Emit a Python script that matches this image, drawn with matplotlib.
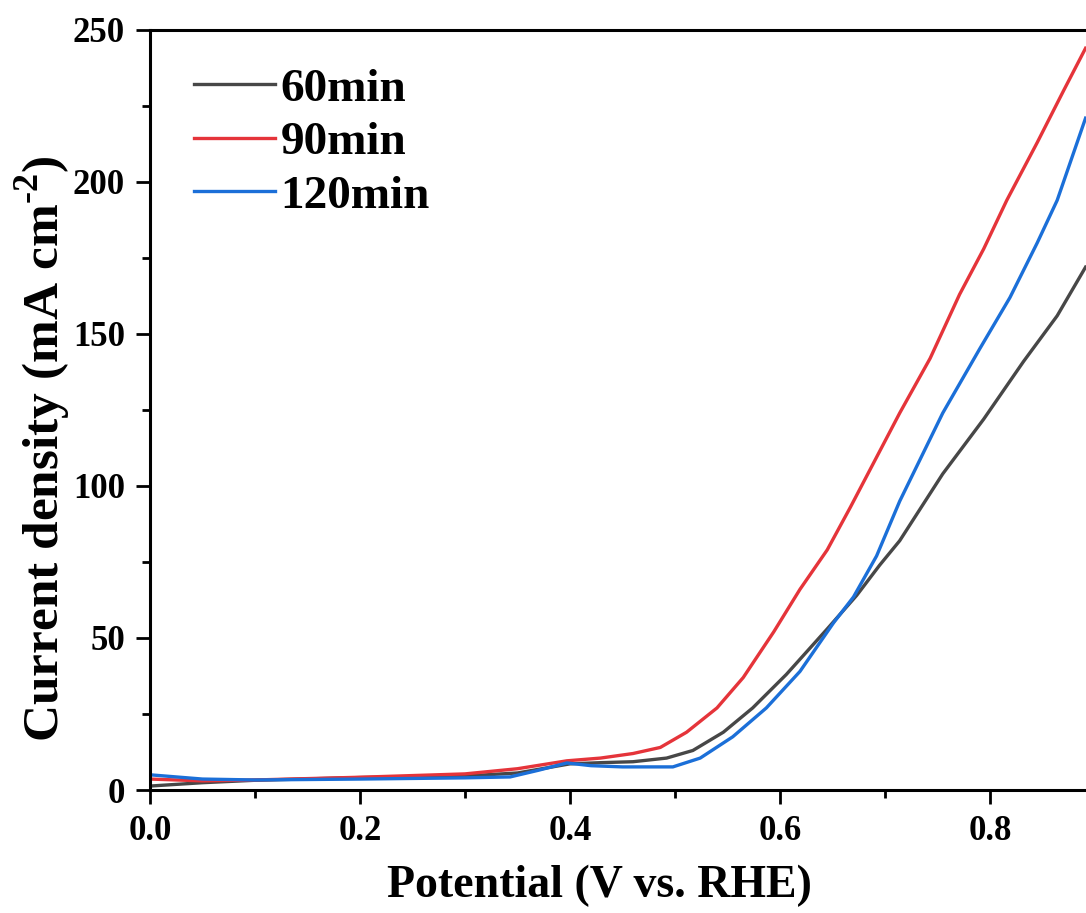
import numpy as np
import matplotlib.pyplot as plt
from matplotlib.ticker import MultipleLocator

plt.rcParams['font.family'] = ['Liberation Serif', 'DejaVu Serif']
plt.rcParams['font.weight'] = 'bold'
plt.rcParams['mathtext.fontset'] = 'custom'
plt.rcParams['mathtext.bf'] = 'Liberation Serif:bold'
plt.rcParams['mathtext.rm'] = 'Liberation Serif:bold'

# readings (potential V vs RHE, current density mA cm-2)
v_60 = [0.0, 0.05, 0.1, 0.2, 0.3, 0.35, 0.4, 0.43, 0.46, 0.492, 0.517, 0.546, 0.574, 0.606,
        0.645, 0.673, 0.695, 0.714, 0.755, 0.794, 0.832, 0.864, 0.891]
j_60 = [1.3, 2.4, 3.2, 4.1, 4.6, 5.6, 8.6, 9.0, 9.3, 10.5, 13, 19, 27, 38,
        53, 64, 74, 82, 104, 122, 141, 156, 172]

v_90 = [0.0, 0.05, 0.1, 0.2, 0.3, 0.35, 0.397, 0.429, 0.46, 0.486, 0.511, 0.540, 0.565,
        0.594, 0.619, 0.645, 0.667, 0.714, 0.743, 0.771, 0.794, 0.816, 0.845, 0.87, 0.891]
j_90 = [3.6, 3.0, 3.3, 4.2, 5.3, 7.0, 9.6, 10.5, 12, 14, 19, 27, 37,
        52, 66, 79, 93, 124, 142, 163, 178, 194, 213, 230, 244]

v_120 = [0.0, 0.05, 0.1, 0.2, 0.3, 0.343, 0.37, 0.397, 0.42, 0.45, 0.498, 0.524, 0.555,
         0.587, 0.619, 0.651, 0.670, 0.692, 0.714, 0.755, 0.790, 0.819, 0.845, 0.864, 0.891]
j_120 = [5.0, 3.6, 3.3, 3.6, 4.0, 4.3, 6.5, 8.9, 8.0, 7.6, 7.6, 10.5, 17.5,
         27, 39, 55, 63.5, 77, 95, 124, 145, 162, 180, 194, 221]

fig = plt.figure(figsize=(10.86, 9.13), dpi=100)
ax = fig.add_axes([150/1086, (913-790)/913, 945/1086, 760/913])

ax.plot(v_60, j_60, color='#474747', lw=2.4, label='60min')
ax.plot(v_90, j_90, color='#e5343a', lw=2.4, label='90min')
ax.plot(v_120, j_120, color='#1b6fd8', lw=2.4, label='120min')

ax.set_xlim(0, 0.9)
ax.set_ylim(0, 250)
ax.xaxis.set_major_locator(MultipleLocator(0.2))
ax.xaxis.set_minor_locator(MultipleLocator(0.1))
ax.yaxis.set_major_locator(MultipleLocator(50))
ax.yaxis.set_minor_locator(MultipleLocator(25))
ax.xaxis.set_major_formatter(plt.FuncFormatter(lambda v, p: f'{v:.1f}'))
ax.tick_params(which='major', direction='out', length=10, width=2, labelsize=25, pad=8)
ax.tick_params(which='minor', direction='out', length=6, width=2)
for s in ax.spines.values():
    s.set_linewidth(2.2)

ax.set_xlabel('Potential (V vs. RHE)', fontsize=33, fontweight='bold', labelpad=12)
ax.set_ylabel('Current density (mA cm$^{\\text{-2}}$)', fontsize=37, fontweight='bold', labelpad=0)
ax.xaxis.label.set_x(0.476)
ax.yaxis.label.set_y(0.449)

ax.legend(loc='upper left', frameon=False, fontsize=34, handlelength=1.7, handletextpad=0.12,
          labelspacing=0.22, borderaxespad=0.0, bbox_to_anchor=(0.027, 0.975))

fig.savefig('out.png', dpi=100)
